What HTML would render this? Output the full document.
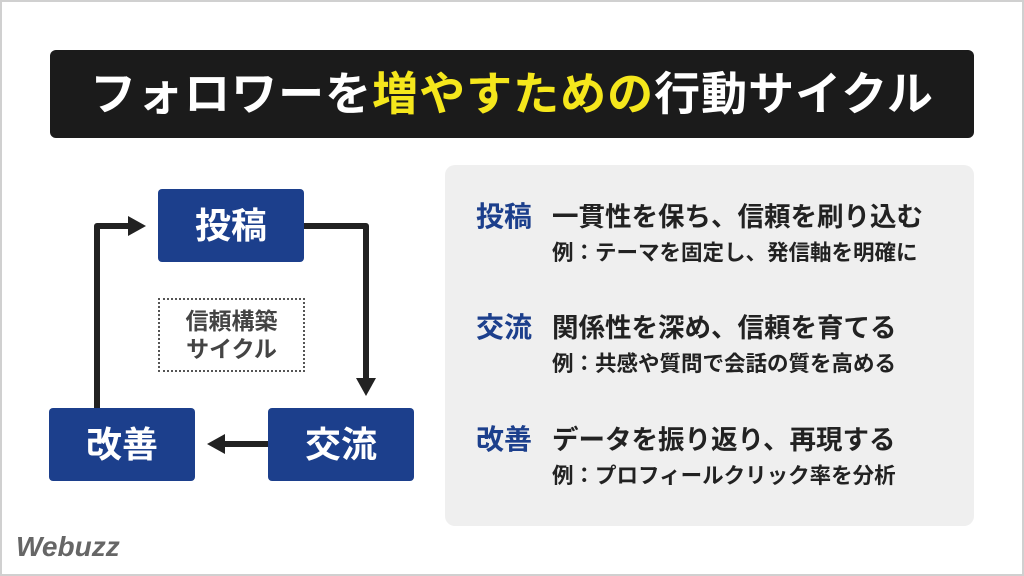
<!DOCTYPE html>
<html><head><meta charset="utf-8"><style>
*{margin:0;padding:0;box-sizing:border-box}
body{width:1024px;height:576px;background:#fff;position:relative;overflow:hidden;font-family:"Liberation Sans","Noto Sans CJK JP",sans-serif;font-weight:bold}
.frame{position:absolute;left:0;top:0;width:1024px;height:576px;border:2px solid #d0d0d0}
.title{position:absolute;left:50px;top:50px;width:924px;height:88px;background:#1b1b1b;border-radius:6px;color:#fff;font-size:46px;line-height:88px;text-align:center;letter-spacing:1px}
.title span{color:#f5e71c}
.node{position:absolute;width:146px;height:73px;background:#1c3f8c;border-radius:4px;color:#fff;font-size:36px;line-height:73px;text-align:center}
.dot{position:absolute;left:158px;top:298px;width:147px;height:74px;border:2px dotted #555;color:#444;font-size:23px;line-height:28px;text-align:center;padding-top:7px}
.panel{position:absolute;left:445px;top:165px;width:529px;height:361px;background:#efefef;border-radius:10px}
.lab{position:absolute;left:476px;color:#1c3f8c;font-size:28px;line-height:32px}
.main{position:absolute;left:552px;color:#222;font-size:26.5px;line-height:32px}
.sub{position:absolute;left:552px;color:#222;font-size:21.5px;line-height:26px}
.logo{position:absolute;left:16px;top:531px;color:#666;font-size:28px;font-style:italic;font-weight:900}
</style></head><body>
<div class="frame"></div>
<div class="title">フォロワーを<span>増やすための</span>行動サイクル</div>
<svg style="position:absolute;left:0;top:0" width="1024" height="576">
<g fill="none" stroke="#222" stroke-width="6" stroke-linejoin="round">
<polyline points="304,226 366,226 366,382"/>
<polyline points="268,444 222,444"/>
<polyline points="97,408 97,226 132,226"/>
</g>
<g fill="#222">
<polygon points="356,378 376,378 366,396"/>
<polygon points="225,434 225,454 207,444"/>
<polygon points="128,216 128,236 146,226"/>
</g>
</svg>
<div class="node" style="left:158px;top:189px">投稿</div>
<div class="node" style="left:49px;top:408px">改善</div>
<div class="node" style="left:268px;top:408px">交流</div>
<div class="dot">信頼構築<br>サイクル</div>
<div class="panel"></div>
<div class="lab" style="top:201px">投稿</div>
<div class="main" style="top:201px">一貫性を保ち、信頼を刷り込む</div>
<div class="sub" style="top:240px">例：テーマを固定し、発信軸を明確に</div>
<div class="lab" style="top:312px">交流</div>
<div class="main" style="top:312px">関係性を深め、信頼を育てる</div>
<div class="sub" style="top:351px">例：共感や質問で会話の質を高める</div>
<div class="lab" style="top:424px">改善</div>
<div class="main" style="top:424px">データを振り返り、再現する</div>
<div class="sub" style="top:463px">例：プロフィールクリック率を分析</div>
<div class="logo">Webuzz</div>
</body></html>
